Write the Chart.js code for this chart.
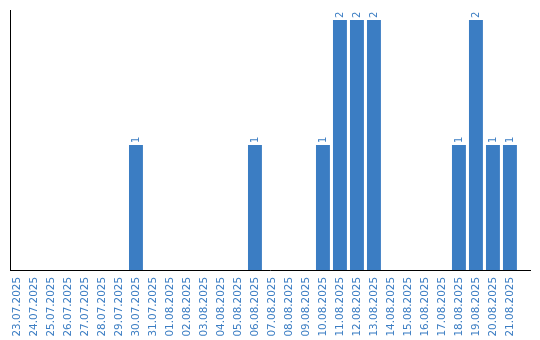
<!DOCTYPE html>
<html>
<head>
<meta charset="utf-8">
<script src="https://cdn.jsdelivr.net/npm/chart.js@4/dist/chart.umd.min.js"></script>
<style>
html,body{margin:0;padding:0;background:#fff;}
#wrap{width:540px;height:340px;position:relative;}
</style>
</head>
<body>
<div id="wrap"><canvas id="c" width="540" height="340"></canvas></div>
<script>
const categories = ["23.07.2025","24.07.2025","25.07.2025","26.07.2025","27.07.2025","28.07.2025","29.07.2025","30.07.2025","31.07.2025","01.08.2025","02.08.2025","03.08.2025","04.08.2025","05.08.2025","06.08.2025","07.08.2025","08.08.2025","09.08.2025","10.08.2025","11.08.2025","12.08.2025","13.08.2025","14.08.2025","15.08.2025","16.08.2025","17.08.2025","18.08.2025","19.08.2025","20.08.2025","21.08.2025"];
const counts = [0,0,0,0,0,0,0,1,0,0,0,0,0,0,1,0,0,0,1,2,2,2,0,0,0,0,1,2,1,1];

const BLUE = '#3b7dc3';

const labelPlugin = {
  id: 'barLabels',
  afterDatasetsDraw(chart) {
    const ctx = chart.ctx;
    const meta = chart.getDatasetMeta(0);
    ctx.save();
    ctx.font = '10px "DejaVu Sans", Verdana, sans-serif';
    ctx.fillStyle = BLUE;
    ctx.textAlign = 'left';
    ctx.textBaseline = 'middle';
    meta.data.forEach((bar, i) => {
      const v = counts[i];
      if (!v) return;
      ctx.save();
      ctx.translate(bar.x, bar.y - 2);
      ctx.rotate(-Math.PI / 2);
      ctx.fillText(String(v), 0, 0);
      ctx.restore();
    });
    ctx.restore();
  }
};

new Chart(document.getElementById('c'), {
  type: 'bar',
  data: {
    datasets: [{
      data: counts.map((v, i) => ({x: i, y: v})),
      backgroundColor: BLUE,
      borderWidth: 0,
      categoryPercentage: 1,
      barPercentage: 0.82
    }]
  },
  options: {
    responsive: false,
    animation: false,
    devicePixelRatio: 1,
    layout: { padding: { left: 10, top: 10, right: 10, bottom: 0 } },
    plugins: { legend: { display: false }, tooltip: { enabled: false } },
    scales: {
      x: {
        type: 'linear',
        offset: false,
        min: -0.41,
        max: 30.18,
        grid: { display: false, drawTicks: false },
        border: { display: true, color: '#000', width: 1 },
        afterBuildTicks(scale) {
          scale.ticks = categories.map((_, i) => ({ value: i }));
        },
        afterFit(scale) { scale.height = 70; },
        ticks: {
          autoSkip: false,
          minRotation: 90,
          maxRotation: 90,
          padding: 7,
          color: BLUE,
          font: { family: '"DejaVu Sans", Verdana, sans-serif', size: 10.4 },
          callback: (v) => categories[v] ?? ''
        }
      },
      y: {
        min: 0,
        max: 2.08,
        grid: { display: false, drawTicks: false },
        border: { display: true, color: '#000', width: 1 },
        afterFit(scale) { scale.width = 0; },
        ticks: { display: false }
      }
    }
  },
  plugins: [labelPlugin]
});
</script>
</body>
</html>
